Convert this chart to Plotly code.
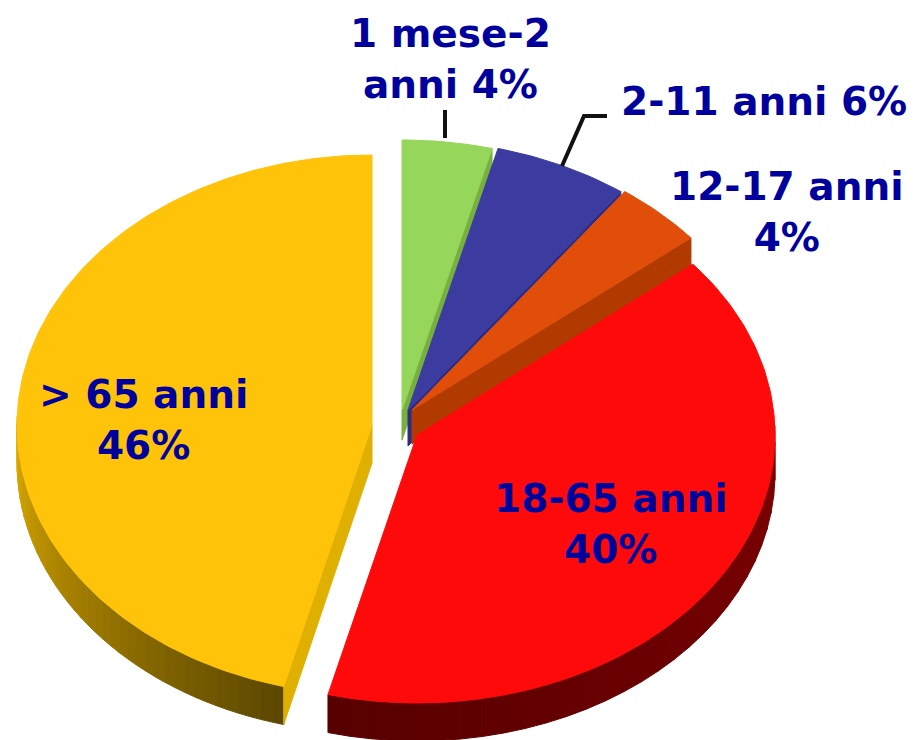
"""Torta pseudo-3D: distribuzione per fasce di età."""

import math

import plotly.graph_objects as go

categories = ["1 mese-2 anni", "2-11 anni", "12-17 anni", "18-65 anni", "> 65 anni"]
values = [4, 6, 4, 40, 46]
label_texts = [
    "1 mese-2<br>anni 4%",
    "2-11 anni 6%",
    "12-17 anni<br>4%",
    "18-65 anni<br>40%",
    "> 65 anni<br>46%",
]

top_colors = ["#96d65a", "#3c3ca0", "#e04e0a", "#ff0a0a", "#ffc30a"]
wall_colors = ["#78b040", "#2c2c86", "#b03a00", "#7a0000", "#e0b000"]
# centro di ogni fetta (effetto "esploso") e semiassi
centers = [(402, 410), (408, 410), (412, 410), (417, 435), (372, 425)]
radii = [(362, 270), (362, 270), (362, 270), (358, 268), (355, 270)]
depths = [30, 36, 34, 38, 38]
label_pos = [(450, 59), (764, 101), (787, 212), (611, 524), (143, 420)]
leader_x = [[445, 445], [562, 584, 607]]
leader_y = [[138, 110], [166, 116, 116]]

TEXT_COLOR = "#00009c"
FONT = "DejaVu Sans"
FONT_SIZE = 39
# la pagina ha un margine di 8 px attorno al grafico
PAGE_MARGIN = 8


def point(center, radius, angle):
    t = math.radians(angle)
    return center[0] + radius[0] * math.sin(t), center[1] - radius[1] * math.cos(t)


def mix(c1, c2, f):
    return "rgb(%d,%d,%d)" % tuple(c1[i] + (c2[i] - c1[i]) * f for i in range(3))


def polygon(fig, xs, ys, color):
    fig.add_trace(
        go.Scatter(
            x=xs,
            y=ys,
            mode="lines",
            fill="toself",
            fillcolor=color,
            line=dict(color=color, width=1),
            hoverinfo="skip",
            showlegend=False,
        )
    )


def wedge(center, radius, a0, a1, dy=0):
    steps = max(2, int(abs(a1 - a0)))
    xs, ys = [center[0]], [center[1] + dy]
    for k in range(steps + 1):
        x, y = point(center, radius, a0 + (a1 - a0) * k / steps)
        xs.append(x)
        ys.append(y + dy)
    xs.append(center[0])
    ys.append(center[1] + dy)
    return xs, ys


def rim(fig, center, radius, a0, a1, depth, c0, c1, steps):
    # parete curva, a strisce per il gradiente
    for k in range(steps):
        s0 = a0 + (a1 - a0) * k / steps
        s1 = a0 + (a1 - a0) * (k + 1) / steps
        x0, y0 = point(center, radius, s0)
        x1, y1 = point(center, radius, s1)
        polygon(
            fig,
            [x0, x1, x1, x0, x0],
            [y0, y1, y1 + depth, y0 + depth, y0],
            mix(c0, c1, k / max(1, steps - 1)),
        )


def cut_wall(fig, center, radius, angle, depth, color):
    x, y = point(center, radius, angle)
    polygon(
        fig,
        [center[0], x, x, center[0], center[0]],
        [center[1], y, y + depth, center[1] + depth, center[1]],
        color,
    )


fig = go.Figure()

angles = [0]
for v in values:
    angles.append(angles[-1] + v * 3.6)

# giallo: parete curva in gradiente e taglio chiaro
rim(fig, centers[4], radii[4], angles[4], 272, depths[4], (92, 72, 0), (222, 172, 0), 40)
cut_wall(fig, centers[4], radii[4], angles[4], depths[4], wall_colors[4])
polygon(fig, *wedge(centers[4], radii[4], angles[4], angles[5]), top_colors[4])

# verde, blu e arancio con il taglio visibile
for i in [0, 1, 2]:
    cut_wall(fig, centers[i], radii[i], angles[i + 1], depths[i], wall_colors[i])
    polygon(fig, *wedge(centers[i], radii[i], angles[i], angles[i + 1]), top_colors[i])

# rosso
rim(fig, centers[3], radii[3], 88, angles[4], depths[3], (125, 0, 0), (88, 0, 0), 30)
polygon(fig, *wedge(centers[3], radii[3], angles[3], angles[4]), top_colors[3])

# linee di richiamo
for lx, ly in zip(leader_x, leader_y):
    fig.add_trace(
        go.Scatter(
            x=lx,
            y=ly,
            mode="lines",
            line=dict(color="#111111", width=4),
            hoverinfo="skip",
            showlegend=False,
        )
    )

for text, (x, y) in zip(label_texts, label_pos):
    fig.add_annotation(
        x=x,
        y=y,
        text=text,
        showarrow=False,
        align="center",
        font=dict(family=FONT, size=FONT_SIZE, color=TEXT_COLOR, weight="bold"),
    )

fig.update_layout(
    width=915,
    height=740,
    margin=dict(l=0, r=0, t=0, b=0),
    paper_bgcolor="white",
    plot_bgcolor="white",
    showlegend=False,
    xaxis=dict(range=[PAGE_MARGIN, 915 + PAGE_MARGIN], visible=False),
    yaxis=dict(range=[740 + PAGE_MARGIN, PAGE_MARGIN], visible=False),
)

fig.write_html("out.html")
